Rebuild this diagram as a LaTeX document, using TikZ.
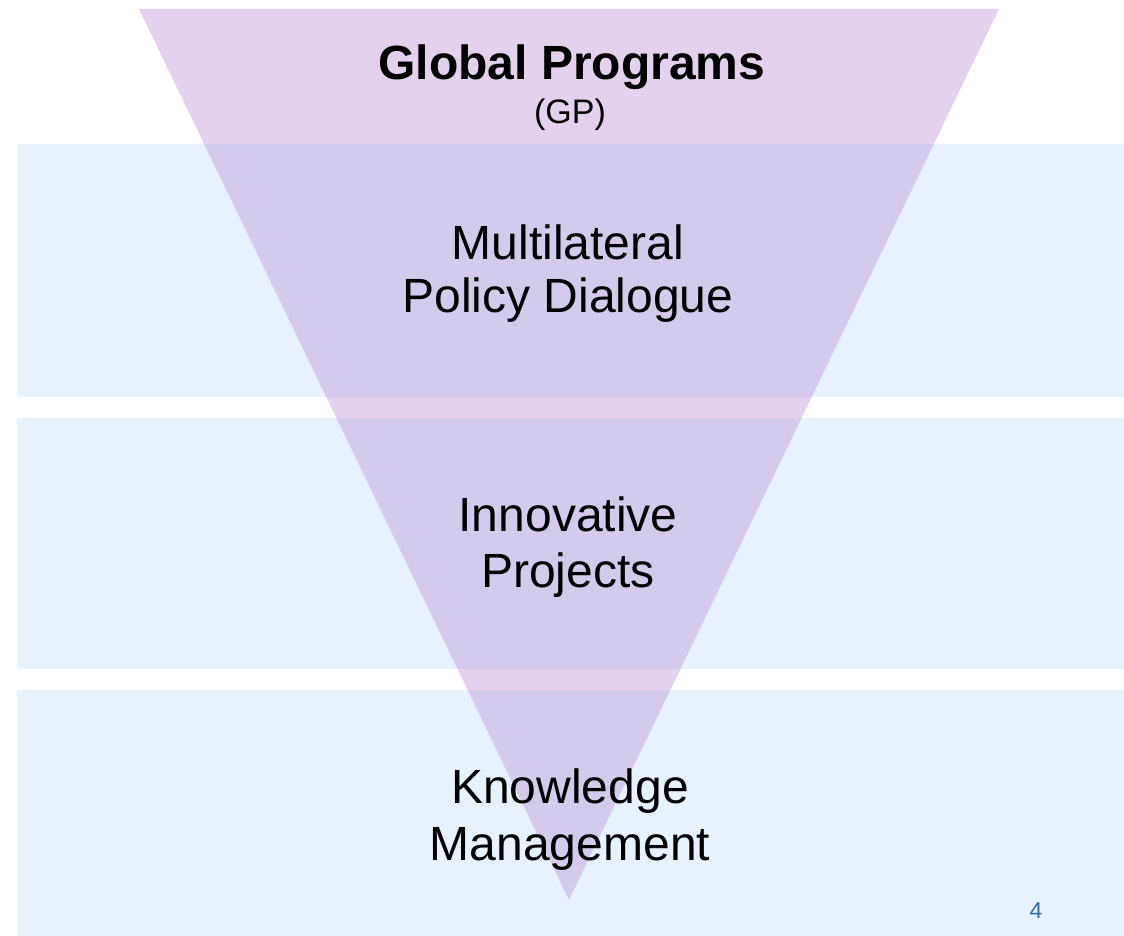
\documentclass[tikz,border=0pt]{standalone}
\usepackage{fontspec}
\setmainfont{Liberation Sans}
\usetikzlibrary{positioning}
\definecolor{bandblue}{RGB}{232,242,255}
\definecolor{funnelpurple}{RGB}{192,152,214}
\definecolor{pagenum}{RGB}{45,115,165}

\begin{document}
\begin{tikzpicture}[x=1pt, y=-1pt,
band/.style={fill=bandblue, draw=none},
funnel/.style={fill=funnelpurple, fill opacity=0.45, draw=none},
big/.style={anchor=base, inner sep=0pt, font=\fontsize{48}{55}\selectfont},
small/.style={anchor=base, inner sep=0pt, font=\fontsize{34}{38}\selectfont},
pageno/.style={anchor=base, inner sep=0pt, text=pagenum, font=\fontsize{23}{26}\selectfont}]

\useasboundingbox (0,0) rectangle (1124,936);

% three layers
\fill[band] (17,144) rectangle (1124,397);
\fill[band] (17,418) rectangle (1124,669);
\fill[band] (17,690) rectangle (1124,936);

% funnel
\fill[funnel] (139,9) -- (999,9) -- (569,900) -- cycle;

\node[big, font=\fontsize{48}{55}\selectfont\bfseries] (gp) at (572,80) {Global Programs};
\node[small] (gpabbr) at (570,124) {(GP)};

\node[big] (mpd1) at (568,259) {Multilateral};
\node[big] (mpd2) at (568,312) {Policy Dialogue};

\node[big] (ip1) at (568,531) {Innovative};
\node[big] (ip2) at (568,587) {Projects};

\node[big] (km1) at (570,803) {Knowledge};
\node[big] (km2) at (570,860) {Management};

\node[pageno] (page) at (1036,918) {4};
\end{tikzpicture}
\end{document}
